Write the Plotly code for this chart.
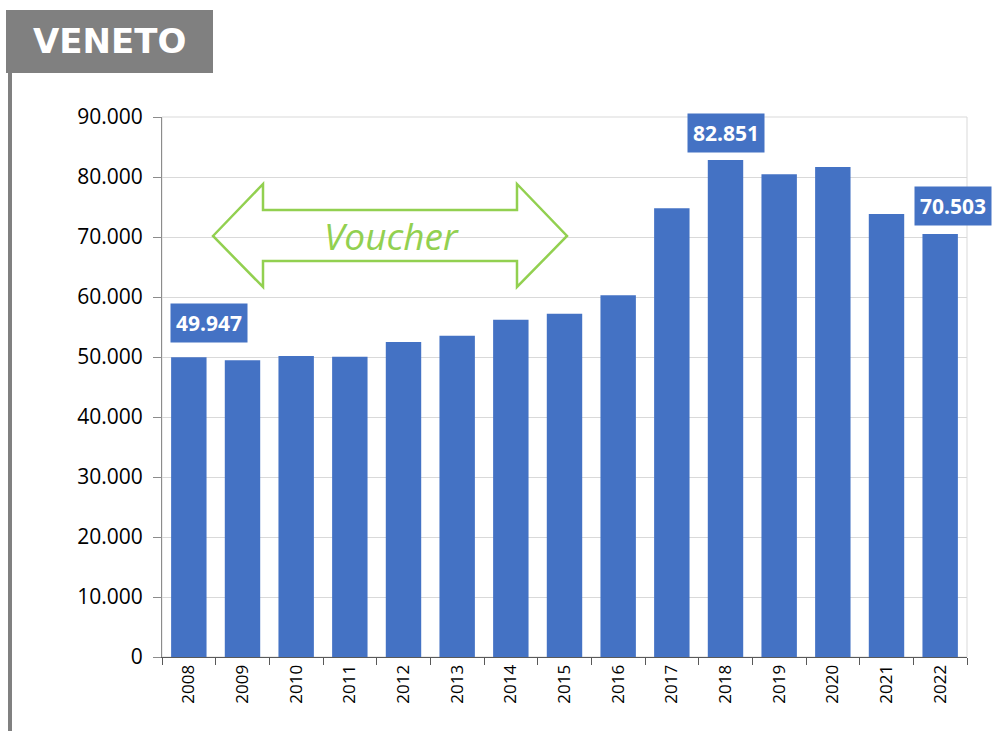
import plotly.graph_objects as go

# ---- data ----
years = ["2008", "2009", "2010", "2011", "2012", "2013", "2014", "2015",
         "2016", "2017", "2018", "2019", "2020", "2021", "2022"]
values = [49947, 49450, 50170, 50050, 52500, 53550, 56200, 57200,
          60300, 74800, 82851, 80450, 81670, 73830, 70503]
labelled_years = ["2008", "2018", "2022"]
y_ticks = [0, 10000, 20000, 30000, 40000, 50000, 60000, 70000, 80000, 90000]
y_tick_text = ["0", "10.000", "20.000", "30.000", "40.000", "50.000",
               "60.000", "70.000", "80.000", "90.000"]
region = "VENETO"
arrow_text = "Voucher"

# ---- layout geometry (pixels) ----
W, H = 993, 731
L, R, T, B = 162, 967, 117, 657
BLUE = "#4472C4"
GREEN = "#92D050"


def px(x):
    return (x - L) / (R - L)


def py(y):
    return (B - y) / (B - T)


fig = go.Figure()
fig.add_trace(go.Bar(x=years, y=values, marker=dict(color=BLUE, line=dict(width=0)),
                     hoverinfo="x+y"))

# data labels
label_shift = {"2008": (20, 14), "2018": (0, 7), "2022": (13, 8)}
for yr in labelled_years:
    i = years.index(yr)
    v = values[i]
    xs, ys = label_shift[yr]
    fig.add_annotation(x=i, y=v, xref="x", yref="y", text=f"<b>{v:,}</b>".replace(",", "."),
                       showarrow=False, yanchor="bottom", xanchor="center",
                       xshift=xs, yshift=ys, bgcolor=BLUE, borderpad=5,
                       font=dict(family="Open Sans", size=21, color="white"))

shapes = []
# plot frame (light)
shapes.append(dict(type="rect", xref="paper", yref="paper", x0=0, x1=1, y0=0, y1=1,
                   line=dict(color="#d9d9d9", width=1), layer="below"))
# title box and vertical bar
shapes.append(dict(type="rect", xref="paper", yref="paper", x0=px(6), x1=px(213),
                   y0=py(73), y1=py(10), fillcolor="#808080", line=dict(width=0)))
shapes.append(dict(type="line", xref="paper", yref="paper", x0=px(10), x1=px(10),
                   y0=py(73), y1=py(731), line=dict(color="#808080", width=4)))
# double arrow outline
pts = [(213, 236), (263, 184), (263, 210), (517, 210), (517, 184), (567, 236),
       (517, 287), (517, 261), (263, 261), (263, 287)]
path = "M " + " L ".join(f"{px(a):.5f},{py(b):.5f}" for a, b in pts) + " Z"
shapes.append(dict(type="path", xref="paper", yref="paper", path=path,
                   fillcolor="rgba(255,255,255,0)", line=dict(color=GREEN, width=2.5)))

fig.add_annotation(xref="paper", yref="paper", x=px(109.5), y=py(41), text=f"<b>{region}</b>",
                   showarrow=False, xanchor="center", yanchor="middle",
                   font=dict(family="DejaVu Sans", size=34, color="white"))
fig.add_annotation(xref="paper", yref="paper", x=px(391), y=py(236), text=f"<i>{arrow_text}</i>",
                   showarrow=False, xanchor="center", yanchor="middle",
                   font=dict(family="Open Sans", size=37, color=GREEN))

n = len(years)
fig.update_layout(
    width=W, height=H,
    margin=dict(l=L, r=W - R, t=T, b=H - B, pad=0),
    paper_bgcolor="white", plot_bgcolor="white",
    bargap=0.34, showlegend=False, shapes=shapes,
    xaxis=dict(type="category", tickson="boundaries", ticks="outside", ticklen=7,
               tickcolor="#595959", showline=True, linecolor="#595959", linewidth=1,
               tickangle=-90, tickfont=dict(family="Open Sans", size=17, color="black"),
               showgrid=False, zeroline=False, range=[-0.5, n - 0.5]),
    yaxis=dict(range=[0, 90000], tickvals=y_ticks, ticktext=y_tick_text, ticks="outside",
               ticklen=8, tickcolor="#8c8c8c", showline=True, linecolor="#8c8c8c",
               showgrid=True, gridcolor="#d9d9d9", gridwidth=1, zeroline=False,
               ticklabelstandoff=6,
               tickfont=dict(family="Open Sans", size=21, color="black")),
    xaxis2=dict(overlaying="x", anchor="y", type="linear", range=[-0.5, n - 0.5],
                tickvals=[i - 0.5 for i in range(n + 1)], ticks="inside", ticklen=7,
                tickcolor="#595959", showticklabels=False, showgrid=False,
                zeroline=False, showline=False),
    yaxis2=dict(overlaying="y", anchor="x", range=[0, 90000], tickvals=y_ticks,
                ticks="inside", ticklen=8, tickcolor="#8c8c8c", showticklabels=False,
                showgrid=False, zeroline=False, showline=False),
)
fig.write_html("out.html", config={"displayModeBar": False},
               post_script="document.body.style.margin='0';")
